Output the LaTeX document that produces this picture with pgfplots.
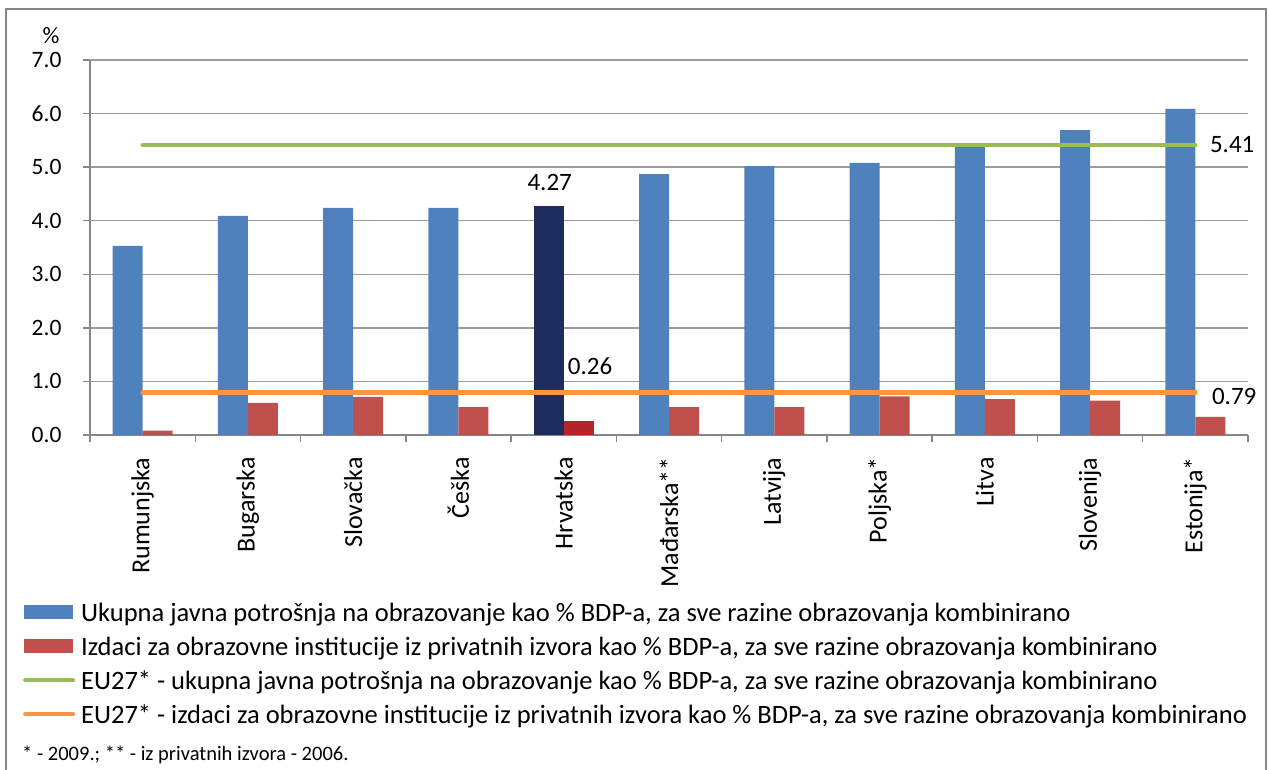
\documentclass[border=0pt]{standalone}
\usepackage{pgfplots}
\pgfplotsset{compat=1.18}
\usepackage{fontspec}
\setmainfont{Carlito}

\definecolor{serblue}{HTML}{4F81BD}
\definecolor{serred}{HTML}{C0504D}
\definecolor{hrblue}{HTML}{1F2D5E}
\definecolor{hrred}{HTML}{B42428}
\definecolor{eugreen}{HTML}{9BBB59}
\definecolor{euorange}{HTML}{F79646}
\definecolor{gridgray}{HTML}{9C9C9C}
\definecolor{axgray}{HTML}{868686}

\begin{document}
\begin{tikzpicture}[x=1pt,y=1pt]
\path[use as bounding box] (0,0) rectangle (1270,769);
\draw[axgray, line width=2pt] (5.5,-5) -- (5.5,760) -- (1266,760) -- (1266,-5);
\begin{axis}[
    at={(90pt,334pt)}, anchor=south west,
    scale only axis, width=1158pt, height=375pt,
    xmin=-0.5, xmax=10.5, ymin=0, ymax=7,
    clip=false,
    axis x line=bottom, axis y line=left,
    axis line style={-, axgray, line width=2pt},
    ytick={0,1,...,7},
    ymajorgrids,
    grid style={gridgray, line width=1.5pt},
    tick align=outside,
    major tick length=7pt,
    minor tick length=7pt,
    tick style={axgray, line width=1.5pt},
    yticklabel style={
        /pgf/number format/.cd, fixed, fixed zerofill, precision=1, assume math mode=true,
        /tikz/.cd, font=\fontsize{23.5}{28}\selectfont},
    yticklabel shift=18pt,
    xtick={0,...,10},
    major x tick style={draw=none},
    minor xtick={-0.5,0.5,...,10.5},
    xticklabels={Rumunjska, Bugarska, Slovačka, Češka, Hrvatska, Mađarska**,
        Latvija, Poljska*, Litva, Slovenija, Estonija*},
    xticklabel style={rotate=90, anchor=east, font=\fontsize{26}{30}\selectfont},
    xticklabel shift=12pt,
    legend style={
        at={(-0.0579,-0.4373)}, anchor=north west,
        draw=none, fill=none, inner sep=0pt,
        font=\fontsize{26.5}{30}\selectfont,
        row sep=8pt,
        nodes={inner sep=0pt},
        /tikz/every odd column/.append style={column sep=6pt},
        /tikz/every even column/.append style={nodes={text height=22pt, text depth=4pt}},
    },
    legend cell align=left,
]
% javna potrosnja
\addplot[ybar, bar width=30pt, bar shift=-15pt, fill=serblue, draw=none,
    legend image code/.code={\fill[serblue] (0pt,-7pt) rectangle (49pt,7pt);}]
    coordinates {(0,3.53) (1,4.09) (2,4.24) (3,4.24) (5,4.87) (6,5.02) (7,5.08) (8,5.39) (9,5.69) (10,6.09)};
\addlegendentry{Ukupna javna potrošnja na obrazovanje kao \% BDP-a, za sve razine obrazovanja kombinirano}
% privatni izvori
\addplot[ybar, bar width=30pt, bar shift=15pt, fill=serred, draw=none,
    legend image code/.code={\fill[serred] (0pt,-7pt) rectangle (49pt,7pt);}]
    coordinates {(0,0.08) (1,0.60) (2,0.71) (3,0.52) (5,0.52) (6,0.52) (7,0.72) (8,0.67) (9,0.64) (10,0.34)};
\addlegendentry{Izdaci za obrazovne institucije iz privatnih izvora kao \% BDP-a, za sve razine obrazovanja kombinirano}
% Hrvatska istaknuta
\addplot[ybar, bar width=30pt, bar shift=-15pt, fill=hrblue, draw=none, forget plot]
    coordinates {(4,4.27)};
\addplot[ybar, bar width=30pt, bar shift=15pt, fill=hrred, draw=none, forget plot]
    coordinates {(4,0.26)};
% EU27 prosjeci
\addplot[eugreen, line width=4.5pt, line cap=round,
    legend image code/.code={\draw[eugreen, line width=4pt, line cap=round] (1pt,0pt) -- (49pt,0pt);}]
    coordinates {(0,5.41) (10,5.41)};
\addlegendentry{EU27* - ukupna javna potrošnja na obrazovanje kao \% BDP-a, za sve razine obrazovanja kombinirano}
\addplot[euorange, line width=4.5pt, line cap=round,
    legend image code/.code={\draw[euorange, line width=4pt, line cap=round] (1pt,0pt) -- (49pt,0pt);}]
    coordinates {(0,0.79) (10,0.79)};
\addlegendentry{EU27* - izdaci za obrazovne institucije iz privatnih izvora kao \% BDP-a, za sve razine obrazovanja kombinirano}

\node[font=\fontsize{25}{30}\selectfont, inner sep=0pt] at (axis cs:4,4.72) [xshift=-14pt] {4.27};
\node[font=\fontsize{25}{30}\selectfont, inner sep=0pt, anchor=west] at (axis cs:4,1.29) [xshift=4pt] {0.26};
\node[font=\fontsize{25}{30}\selectfont, inner sep=0pt, anchor=west] at (axis cs:10,5.43) [xshift=14.5pt] {5.41};
\node[font=\fontsize{25}{30}\selectfont, inner sep=0pt, anchor=west] at (axis cs:10,0.71) [xshift=16.5pt] {0.79};
\node[font=\fontsize{23.5}{28}\selectfont, inner sep=0pt] at (rel axis cs:0,1) [xshift=-39pt, yshift=24pt] {\%};
\end{axis}
\node[anchor=west, inner sep=0pt, font=\fontsize{20.5}{24}\selectfont] at (22,14) {* - 2009.; ** - iz privatnih izvora - 2006.};
\end{tikzpicture}
\end{document}
